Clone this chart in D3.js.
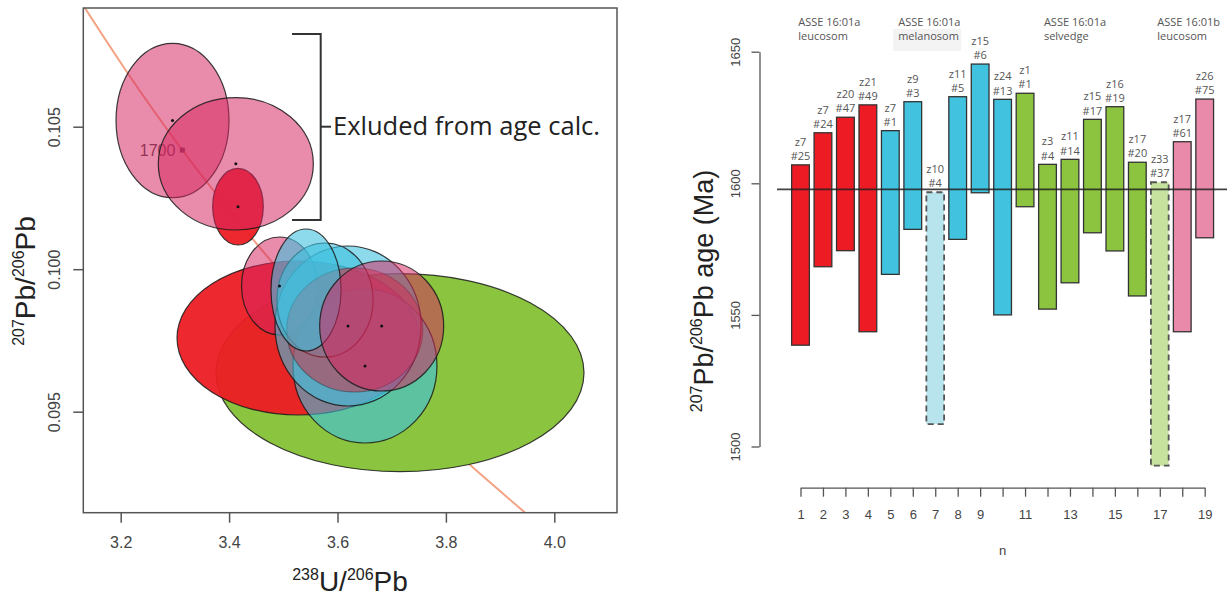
<!DOCTYPE html>
<html>
<head>
<meta charset="utf-8">
<script src="https://cdn.jsdelivr.net/npm/d3@7"></script>
<style>
  body { margin: 0; background: #fff; }
  svg { display: block; }
</style>
</head>
<body>
<svg id="chart" width="1229" height="596"></svg>
<script>
// ---------- left panel: Tera-Wasserburg ellipses ----------
var ellName  = ["E3", "P1", "P2", "G1", "R1", "P3", "B3", "B2", "C3", "R2", "C1", "M1"];
var ellType  = ["red", "pink", "pink", "green", "red", "pink", "blue", "blue", "blue", "redT", "blue", "pink"];
var ellX     = [3.4164, 3.2956, 3.4124, 3.7153, 3.5271, 3.4930, 3.6507, 3.6194, 3.5769, 3.6318, 3.5419, 3.6815];
var ellY     = [0.102193, 0.105218, 0.103698, 0.096368, 0.097586, 0.099411, 0.096604, 0.098007, 0.098919, 0.097867, 0.099270, 0.098007];
var ellSx    = [0.0467, 0.1042, 0.1430, 0.3395, 0.2232, 0.0701, 0.1328, 0.1347, 0.0886, 0.1255, 0.0646, 0.1144];
var ellSy    = [0.001344, 0.002709, 0.002323, 0.003474, 0.002702, 0.001719, 0.002702, 0.002807, 0.002000, 0.002175, 0.002140, 0.002281];
var ellDot   = [true, true, true, false, false, true, true, true, false, false, false, true];

// concordia points
var concX = [3.1044, 3.2062, 3.3138, 3.4283, 3.5496, 3.6790, 3.8169, 3.9645];
var concY = [0.11004, 0.10707, 0.10418, 0.10141, 0.09872, 0.09612, 0.09360, 0.09116];
var markAge = "1700";
var markX = 3.3138, markY = 0.10418;

var xTicksL = [3.2, 3.4, 3.6, 3.8, 4.0];
var yTicksL = [0.095, 0.100, 0.105];

// ---------- right panel: 207Pb/206Pb ages ----------
var n = [1, 2, 3, 4, 5, 6, 7, 8, 9, 10, 11, 12, 13, 14, 15, 16, 17, 18, 19];
var ageTop    = [1607.0, 1619.2, 1625.1, 1629.8, 1620.0, 1631.0, 1596.6, 1632.9, 1645.3, 1631.9,
                 1634.2, 1607.2, 1609.1, 1624.3, 1629.1, 1608.0, 1600.4, 1615.8, 1632.0];
var ageBottom = [1538.5, 1568.3, 1574.4, 1543.6, 1565.4, 1582.5, 1508.5, 1578.7, 1596.4, 1550.0,
                 1591.1, 1552.2, 1562.2, 1581.2, 1574.3, 1557.2, 1492.7, 1543.6, 1579.3];
var zircon = ["z7", "z7", "z20", "z21", "z7", "z9", "z10", "z11", "z15", "z24",
              "z1", "z3", "z11", "z15", "z16", "z17", "z33", "z17", "z26"];
var spot   = ["#25", "#24", "#47", "#49", "#1", "#3", "#4", "#5", "#6", "#13",
              "#1", "#4", "#14", "#17", "#19", "#20", "#37", "#61", "#75"];
var barType = ["red", "red", "red", "red", "blue", "blue", "blue", "blue", "blue", "blue",
               "green", "green", "green", "green", "green", "green", "green", "pink", "pink"];
var excluded = [false, false, false, false, false, false, true, false, false, false,
                false, false, false, false, false, false, true, false, false];
var meanAge = 1597.7;
var yTicksR = [1500, 1550, 1600, 1650];
var xLabelsR = [1, 2, 3, 4, 5, 6, 7, 8, 9, 11, 13, 15, 17, 19];
var groupLine1 = ["ASSE 16:01a", "ASSE 16:01a", "ASSE 16:01a", "ASSE 16:01b"];
var groupLine2 = ["leucosom", "melanosom", "selvedge", "leucosom"];
var groupAtN   = [0.9, 5.35, 11.84, 16.89];

var barFill  = { red: "#ED1C24", blue: "#41C3E0", green: "#8CC43F", pink: "#E98AAA" };
var barFaint = { blue: "#B8E4EE", green: "#C6E29E" };
var ellFill  = { red: "#EC1C24", redT: "#E41E30", pink: "#D62660", blue: "#3FC1E0", green: "#8BC43F" };
var ellAlpha = { red: 0.95, redT: 0.45, pink: 0.53, blue: 0.6, green: 1 };

var svg = d3.select("#chart");

// ================= LEFT PANEL =================
var box = { l: 83.3, r: 617, t: 8, b: 512.7 };
var xL = d3.scaleLinear().domain([3.2, 4.0]).range([120.7, 554.3]);
var yL = d3.scaleLinear().domain([0.095, 0.105]).range([411.7, 126.7]);

svg.append("clipPath").attr("id", "clipL")
  .append("rect").attr("x", box.l).attr("y", box.t)
  .attr("width", box.r - box.l).attr("height", box.b - box.t);

var plotL = svg.append("g").attr("clip-path", "url(#clipL)");

// concordia
var conc = concX.map(function (d, i) { return [d, concY[i]]; });
plotL.append("path")
  .datum(conc)
  .attr("d", d3.line().x(d => xL(d[0])).y(d => yL(d[1])).curve(d3.curveNatural))
  .attr("fill", "none")
  .attr("stroke", "#F4A284")
  .attr("stroke-width", 2);

plotL.append("rect")
  .attr("x", xL(markX) - 2.5).attr("y", yL(markY) - 2.5)
  .attr("width", 5).attr("height", 5)
  .attr("fill", "#444");
plotL.append("text")
  .attr("x", xL(markX) - 7).attr("y", yL(markY))
  .attr("dy", "0.35em")
  .attr("text-anchor", "end")
  .attr("font-family", "Liberation Sans, Arial, sans-serif")
  .attr("font-size", 16)
  .attr("fill", "#444")
  .text(markAge);

// ellipses
var ells = ellName.map(function (d, i) {
  return { name: d, type: ellType[i], x: ellX[i], y: ellY[i], sx: ellSx[i], sy: ellSy[i], dot: ellDot[i] };
});

plotL.selectAll("ellipse.err")
  .data(ells)
  .enter().append("ellipse")
  .attr("class", "err")
  .attr("cx", d => xL(d.x))
  .attr("cy", d => yL(d.y))
  .attr("rx", d => xL(d.x + d.sx) - xL(d.x))
  .attr("ry", d => yL(d.y - d.sy) - yL(d.y))
  .attr("fill", d => ellFill[d.type])
  .attr("fill-opacity", d => ellAlpha[d.type])
  .attr("stroke", "#1a1a1a")
  .attr("stroke-opacity", d => d.type == "redT" ? 0.4 : 0.85)
  .attr("stroke-width", 1.2);

plotL.selectAll("circle.ctr")
  .data(ells.filter(d => d.dot))
  .enter().append("circle")
  .attr("class", "ctr")
  .attr("cx", d => xL(d.x))
  .attr("cy", d => yL(d.y))
  .attr("r", 1.5)
  .attr("fill", "#111");

// frame
svg.append("rect")
  .attr("x", box.l).attr("y", box.t)
  .attr("width", box.r - box.l).attr("height", box.b - box.t)
  .attr("fill", "none").attr("stroke", "#555").attr("stroke-width", 1.5);

var tickFont = "Liberation Sans, Arial, sans-serif";

svg.append("g")
  .attr("transform", "translate(0," + box.b + ")")
  .call(d3.axisBottom(xL).tickValues(xTicksL).tickFormat(d3.format(".1f")).tickSize(10))
  .call(g => g.select(".domain").remove())
  .call(g => g.selectAll("line").attr("stroke", "#555").attr("stroke-width", 1.5))
  .call(g => g.selectAll("text").attr("y", 30).attr("dy", "0.35em")
    .attr("font-family", tickFont).attr("font-size", 16).attr("fill", "#444"));

svg.append("g")
  .attr("transform", "translate(" + box.l + ",0)")
  .call(d3.axisLeft(yL).tickValues(yTicksL).tickFormat(d3.format(".3f")).tickSize(10))
  .call(g => g.select(".domain").remove())
  .call(g => g.selectAll("line").attr("stroke", "#555").attr("stroke-width", 1.5))
  .call(g => g.selectAll("text")
    .attr("x", null).attr("y", null).attr("dy", "0.35em")
    .attr("text-anchor", "middle")
    .attr("transform", "translate(-29,0) rotate(-90)")
    .attr("font-family", tickFont).attr("font-size", 16).attr("fill", "#444"));

// axis titles with superscripts
function isoLabel(sel, parts, big, small) {
  parts.forEach(function (p) {
    sel.append("tspan")
      .attr("font-size", p.sup ? small : big)
      .attr("dy", p.dy)
      .text(p.t);
  });
}

var xTitle = svg.append("text")
  .attr("x", 350).attr("y", 591)
  .attr("text-anchor", "middle")
  .attr("font-family", tickFont)
  .attr("fill", "#222");
isoLabel(xTitle, [
  { t: "238", sup: true, dy: -11 }, { t: "U/", sup: false, dy: 11 },
  { t: "206", sup: true, dy: -11 }, { t: "Pb", sup: false, dy: 11 }
], 28, 16);

var yTitle = svg.append("text")
  .attr("transform", "translate(35,281) rotate(-90)")
  .attr("text-anchor", "middle")
  .attr("font-family", tickFont)
  .attr("fill", "#222");
isoLabel(yTitle, [
  { t: "207", sup: true, dy: -11 }, { t: "Pb/", sup: false, dy: 11 },
  { t: "206", sup: true, dy: -11 }, { t: "Pb", sup: false, dy: 11 }
], 28, 16);

// excluded bracket
var br = svg.append("g").attr("stroke", "#333").attr("stroke-width", 2).attr("fill", "none");
br.append("path").attr("d", "M292,34H320.7V220H292");
br.append("path").attr("d", "M320.7,126.7H331");
svg.append("text")
  .attr("x", 333).attr("y", 135)
  .attr("font-family", "Open Sans, sans-serif")
  .attr("font-size", 25.5)
  .attr("fill", "#222")
  .text("Exluded from age calc.");

// ================= RIGHT PANEL =================
var xR = d3.scaleLinear().domain([1, 19]).range([800.5, 1204.7]);
var yR = d3.scaleLinear().domain([1500, 1650]).range([446.5, 51.7]);
var halfW = 0.395;

// group captions
var labFont = "Open Sans, sans-serif";
svg.append("rect")
  .attr("x", xR(groupAtN[1]) - 5).attr("y", 29)
  .attr("width", 68).attr("height", 22)
  .attr("fill", "#f3f3f3");

groupLine1.forEach(function (t, i) {
  var g = svg.append("text")
    .attr("x", xR(groupAtN[i])).attr("y", 25.5)
    .attr("font-family", labFont).attr("font-size", 11).attr("fill", "#555");
  g.append("tspan").text(t);
  g.append("tspan").attr("x", xR(groupAtN[i])).attr("dy", 14.5).text(groupLine2[i]);
});

var bars = n.map(function (d, i) {
  return { n: d, top: ageTop[i], bot: ageBottom[i], z: zircon[i], s: spot[i], type: barType[i], ex: excluded[i] };
});

svg.selectAll("rect.bar")
  .data(bars)
  .enter().append("rect")
  .attr("class", "bar")
  .attr("x", d => xR(d.n - halfW))
  .attr("width", d => xR(d.n + halfW) - xR(d.n - halfW))
  .attr("y", d => yR(d.top))
  .attr("height", d => yR(d.bot) - yR(d.top))
  .attr("fill", d => d.ex ? barFaint[d.type] : barFill[d.type])
  .attr("stroke", d => d.ex ? "#555" : "#333")
  .attr("stroke-width", d => d.ex ? 1.8 : 1.3)
  .attr("stroke-dasharray", d => d.ex ? "6,4" : null);

var lab = svg.selectAll("text.blab")
  .data(bars)
  .enter().append("text")
  .attr("class", "blab")
  .attr("text-anchor", "middle")
  .attr("font-family", labFont).attr("font-size", 11).attr("fill", "#555");
lab.append("tspan")
  .attr("x", d => xR(d.n)).attr("y", d => yR(d.top) - 19)
  .text(d => d.z);
lab.append("tspan")
  .attr("x", d => xR(d.n)).attr("y", d => yR(d.top) - 4.8)
  .text(d => d.s);

// weighted mean line
svg.append("line")
  .attr("x1", 777).attr("x2", 1227)
  .attr("y1", yR(meanAge)).attr("y2", yR(meanAge))
  .attr("stroke", "#222").attr("stroke-opacity", 0.85).attr("stroke-width", 1.6);

// axes
svg.append("g")
  .attr("transform", "translate(759.5,0)")
  .call(d3.axisLeft(yR).tickValues(yTicksR).tickFormat(d3.format("d")).tickSize(8).tickSizeOuter(0))
  .call(g => g.select(".domain").attr("stroke", "#555").attr("stroke-width", 1.3))
  .call(g => g.selectAll("line").attr("stroke", "#555").attr("stroke-width", 1.3))
  .call(g => g.selectAll("text")
    .attr("x", null).attr("y", null).attr("dy", "0.35em")
    .attr("text-anchor", "middle")
    .attr("transform", "translate(-24.5,0) rotate(-90)")
    .attr("font-family", tickFont).attr("font-size", 13).attr("fill", "#444"));

svg.append("g")
  .attr("transform", "translate(0,487.7)")
  .call(d3.axisBottom(xR).tickValues(n).tickSize(9).tickSizeOuter(0)
    .tickFormat(d => xLabelsR.indexOf(d) >= 0 ? d : ""))
  .call(g => g.select(".domain").attr("stroke", "#555").attr("stroke-width", 1.3))
  .call(g => g.selectAll("line").attr("stroke", "#555").attr("stroke-width", 1.3))
  .call(g => g.selectAll("text").attr("y", 27).attr("dy", "0.35em")
    .attr("font-family", tickFont).attr("font-size", 13).attr("fill", "#444"));

svg.append("text")
  .attr("x", xR(10)).attr("y", 550).attr("dy", "0.35em")
  .attr("text-anchor", "middle")
  .attr("font-family", tickFont).attr("font-size", 13).attr("fill", "#444")
  .text("n");

var yTitleR = svg.append("text")
  .attr("transform", "translate(713,291) rotate(-90)")
  .attr("text-anchor", "middle")
  .attr("font-family", tickFont)
  .attr("fill", "#222");
isoLabel(yTitleR, [
  { t: "207", sup: true, dy: -11 }, { t: "Pb/", sup: false, dy: 11 },
  { t: "206", sup: true, dy: -11 }, { t: "Pb age (Ma)", sup: false, dy: 11 }
], 27, 16);
</script>
</body>
</html>
